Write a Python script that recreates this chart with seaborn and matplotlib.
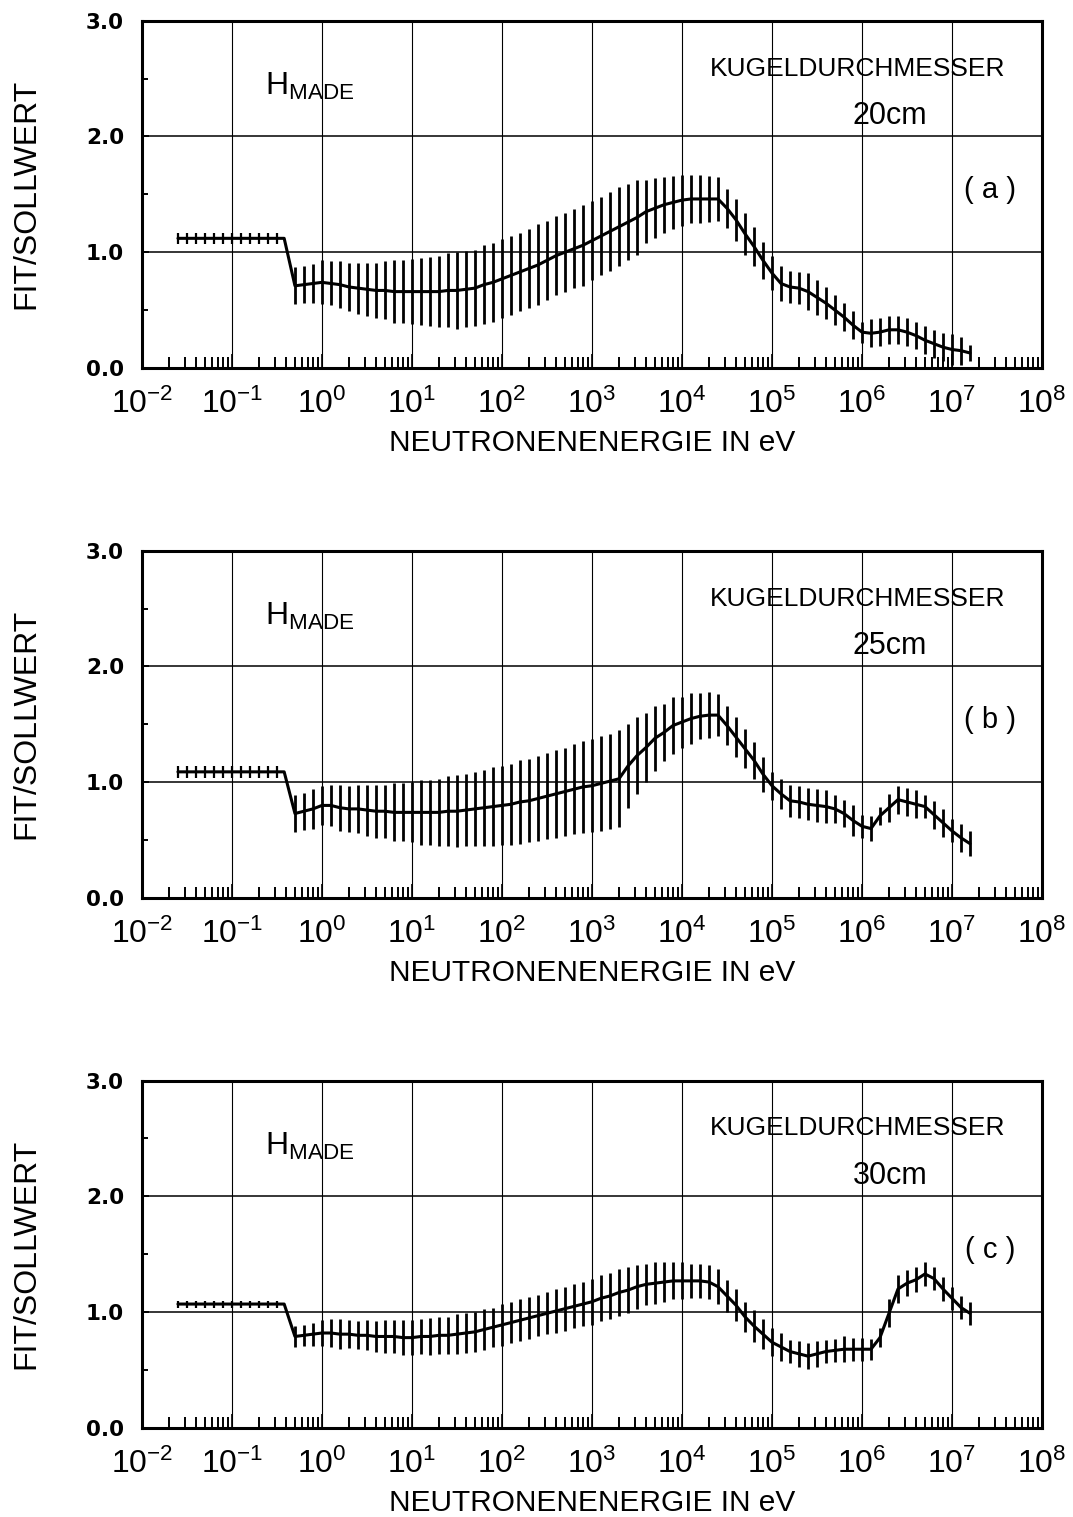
import numpy as np
import pandas as pd
import matplotlib
matplotlib.use("Agg")
import matplotlib.pyplot as plt
import seaborn as sns
from matplotlib import font_manager as fm
from matplotlib.ticker import FixedLocator, LogLocator, NullFormatter, FuncFormatter

# ---------------- data ----------------
# log10 of neutron energy (eV) for the main error-bar points
LOG_E = [-0.3, -0.2, -0.1, 0.0, 0.1, 0.2, 0.3, 0.4, 0.5, 0.6,
         0.7, 0.8, 0.9, 1.0, 1.1, 1.2, 1.3, 1.4, 1.5, 1.6,
         1.7, 1.8, 1.9, 2.0, 2.1, 2.2, 2.3, 2.4, 2.5, 2.6,
         2.7, 2.8, 2.9, 3.0, 3.1, 3.2, 3.3, 3.4, 3.5, 3.6,
         3.7, 3.8, 3.9, 4.0, 4.1, 4.2, 4.3, 4.4, 4.5, 4.6,
         4.7, 4.8, 4.9, 5.0, 5.1, 5.2, 5.3, 5.4, 5.5, 5.6,
         5.7, 5.8, 5.9, 6.0, 6.1, 6.2, 6.3, 6.4, 6.5, 6.6,
         6.7, 6.8, 6.9, 7.0, 7.1, 7.2]

# thermal plateau points (log10 eV)
LOG_E_THERMAL = [-1.6, -1.5, -1.4, -1.3, -1.2, -1.1, -1.0, -0.9, -0.8, -0.7, -0.6, -0.5]
PLATEAU_END = -0.42

THERMAL_A, THERMAL_ERR_A = 1.12, 0.05
THERMAL_B, THERMAL_ERR_B = 1.09, 0.05
THERMAL_C, THERMAL_ERR_C = 1.07, 0.03

VAL_A = [0.71, 0.72, 0.73, 0.74, 0.73, 0.72, 0.70, 0.69, 0.68, 0.67,
         0.67, 0.66, 0.66, 0.66, 0.66, 0.66, 0.66, 0.67, 0.67, 0.68,
         0.69, 0.72, 0.74, 0.77, 0.80, 0.83, 0.86, 0.89, 0.93, 0.97,
         1.00, 1.03, 1.06, 1.10, 1.14, 1.18, 1.22, 1.26, 1.30, 1.35,
         1.38, 1.41, 1.43, 1.45, 1.46, 1.46, 1.46, 1.46, 1.38, 1.28,
         1.16, 1.05, 0.93, 0.82, 0.73, 0.70, 0.69, 0.66, 0.61, 0.56,
         0.50, 0.44, 0.37, 0.31, 0.30, 0.31, 0.33, 0.33, 0.31, 0.28,
         0.24, 0.21, 0.18, 0.16, 0.15, 0.13]
ERR_A = [0.16, 0.16, 0.17, 0.19, 0.19, 0.20, 0.21, 0.22, 0.23, 0.24,
         0.25, 0.27, 0.27, 0.28, 0.29, 0.30, 0.31, 0.32, 0.33, 0.33,
         0.33, 0.34, 0.34, 0.34, 0.34, 0.34, 0.34, 0.35, 0.34, 0.34,
         0.34, 0.34, 0.35, 0.34, 0.34, 0.34, 0.34, 0.33, 0.32, 0.27,
         0.26, 0.24, 0.23, 0.22, 0.21, 0.21, 0.20, 0.19, 0.17, 0.18,
         0.18, 0.17, 0.16, 0.15, 0.15, 0.14, 0.14, 0.16, 0.15, 0.14,
         0.13, 0.12, 0.12, 0.09, 0.12, 0.12, 0.12, 0.12, 0.12, 0.12,
         0.12, 0.12, 0.12, 0.13, 0.12, 0.07]

VAL_B = [0.73, 0.75, 0.77, 0.80, 0.80, 0.78, 0.77, 0.77, 0.76, 0.75,
         0.75, 0.74, 0.74, 0.74, 0.74, 0.74, 0.74, 0.75, 0.75, 0.76,
         0.77, 0.78, 0.79, 0.80, 0.81, 0.83, 0.84, 0.86, 0.88, 0.90,
         0.92, 0.94, 0.96, 0.97, 0.99, 1.01, 1.03, 1.14, 1.23, 1.30,
         1.38, 1.43, 1.49, 1.52, 1.55, 1.57, 1.58, 1.58, 1.49, 1.39,
         1.29, 1.19, 1.07, 0.97, 0.90, 0.84, 0.83, 0.81, 0.80, 0.79,
         0.77, 0.73, 0.67, 0.62, 0.60, 0.71, 0.78, 0.85, 0.83, 0.81,
         0.79, 0.72, 0.65, 0.58, 0.52, 0.47]
ERR_B = [0.16, 0.16, 0.17, 0.17, 0.18, 0.20, 0.20, 0.21, 0.22, 0.23,
         0.23, 0.25, 0.25, 0.26, 0.28, 0.28, 0.29, 0.30, 0.31, 0.31,
         0.32, 0.33, 0.34, 0.34, 0.35, 0.36, 0.36, 0.37, 0.37, 0.38,
         0.38, 0.39, 0.40, 0.40, 0.41, 0.41, 0.42, 0.36, 0.33, 0.30,
         0.28, 0.25, 0.25, 0.22, 0.22, 0.20, 0.20, 0.18, 0.17, 0.17,
         0.17, 0.16, 0.15, 0.12, 0.13, 0.14, 0.14, 0.14, 0.14, 0.14,
         0.12, 0.12, 0.13, 0.10, 0.11, 0.08, 0.12, 0.12, 0.12, 0.12,
         0.10, 0.12, 0.12, 0.10, 0.12, 0.11]

VAL_C = [0.79, 0.80, 0.81, 0.82, 0.82, 0.81, 0.81, 0.80, 0.80, 0.79,
         0.79, 0.79, 0.78, 0.78, 0.79, 0.79, 0.80, 0.80, 0.81, 0.82,
         0.83, 0.85, 0.87, 0.89, 0.91, 0.93, 0.95, 0.97, 0.99, 1.01,
         1.03, 1.05, 1.07, 1.09, 1.12, 1.14, 1.17, 1.19, 1.22, 1.24,
         1.25, 1.26, 1.27, 1.27, 1.27, 1.27, 1.26, 1.22, 1.14, 1.06,
         0.96, 0.88, 0.81, 0.74, 0.70, 0.66, 0.64, 0.62, 0.64, 0.66,
         0.67, 0.68, 0.68, 0.68, 0.68, 0.78, 0.99, 1.20, 1.25, 1.28,
         1.33, 1.29, 1.20, 1.12, 1.04, 0.99]
ERR_C = [0.09, 0.09, 0.10, 0.11, 0.12, 0.13, 0.12, 0.12, 0.13, 0.13,
         0.14, 0.14, 0.15, 0.15, 0.15, 0.16, 0.16, 0.16, 0.17, 0.17,
         0.17, 0.18, 0.17, 0.18, 0.18, 0.18, 0.18, 0.18, 0.18, 0.19,
         0.19, 0.19, 0.19, 0.20, 0.20, 0.20, 0.20, 0.20, 0.19, 0.18,
         0.18, 0.17, 0.16, 0.16, 0.15, 0.15, 0.15, 0.15, 0.14, 0.14,
         0.13, 0.14, 0.13, 0.12, 0.12, 0.10, 0.11, 0.11, 0.11, 0.10,
         0.10, 0.11, 0.10, 0.10, 0.09, 0.08, 0.12, 0.12, 0.11, 0.11,
         0.10, 0.10, 0.10, 0.10, 0.10, 0.10]

DIAMETERS = ["20cm", "25cm", "30cm"]
PANEL_TAGS = ["( a )", "( b )", "( c )"]
Y_TICKS = [0.0, 1.0, 2.0, 3.0]
Y_MINOR = [0.5, 1.5, 2.5]
X_DECADES = [-2, -1, 0, 1, 2, 3, 4, 5, 6, 7, 8]

# ---------------- style ----------------
sns.set_theme(style="white")
names = {f.name for f in fm.fontManager.ttflist}
if "Liberation Sans Narrow" in names:
    FONT, K = "Liberation Sans Narrow", 1.19
else:
    FONT, K = "Liberation Sans", 1.0
plt.rcParams["font.family"] = [FONT, "DejaVu Sans"]
plt.rcParams["mathtext.default"] = "regular"
plt.rcParams["mathtext.fontset"] = "custom"
plt.rcParams["mathtext.rm"] = FONT
plt.rcParams["mathtext.it"] = FONT
plt.rcParams["mathtext.bf"] = FONT
for key in ["text.color", "axes.labelcolor", "xtick.color", "ytick.color", "axes.edgecolor"]:
    plt.rcParams[key] = "black"

fig = plt.figure(figsize=(10.73, 15.17), dpi=100)
fig.patch.set_facecolor("white")

panels = [
    (0.7574, THERMAL_A, THERMAL_ERR_A, VAL_A, ERR_A),
    (0.4080, THERMAL_B, THERMAL_ERR_B, VAL_B, ERR_B),
    (0.0587, THERMAL_C, THERMAL_ERR_C, VAL_C, ERR_C),
]

for i, (bottom, tv, te, vals, errs) in enumerate(panels):
    ax = fig.add_axes([0.1323, bottom, 0.8388, 0.2290])
    ax.set_xscale("log")
    ax.set_xlim(10.0 ** X_DECADES[0], 10.0 ** X_DECADES[-1])
    ax.set_ylim(0, 3)

    # grid
    for d in X_DECADES[1:-1]:
        ax.axvline(10.0 ** d, color="black", lw=0.8, zorder=1)
    for yv in Y_TICKS[1:-1]:
        ax.axhline(yv, color="black", lw=1.1, zorder=1)

    # curve
    e_main = 10.0 ** np.array(LOG_E)
    e_th = 10.0 ** np.array(LOG_E_THERMAL)
    line_x = np.concatenate([e_th, [10.0 ** PLATEAU_END], e_main])
    line_y = np.concatenate([[tv] * len(e_th), [tv], vals])
    df = pd.DataFrame({"E": line_x, "v": line_y})
    sns.lineplot(data=df, x="E", y="v", ax=ax, color="black", lw=2.2,
                 sort=False, estimator=None, zorder=3)

    # error bars
    v = np.array(vals)
    e = np.array(errs)
    ax.vlines(e_main, v - e, v + e, color="black", lw=2.0, zorder=3)
    ax.vlines(e_th, np.full(len(e_th), tv - te), np.full(len(e_th), tv + te),
              color="black", lw=1.6, zorder=3)

    # spines
    for s in ax.spines.values():
        s.set_linewidth(2.2)
        s.set_color("black")
        s.set_visible(True)

    # ticks
    ax.xaxis.set_major_locator(FixedLocator([10.0 ** d for d in X_DECADES]))
    ax.xaxis.set_minor_locator(LogLocator(base=10, subs=np.arange(2, 10), numticks=50))
    ax.xaxis.set_minor_formatter(NullFormatter())
    ax.xaxis.set_major_formatter(FuncFormatter(
        lambda x, p: r"$10^{%d}$" % int(round(np.log10(x)))))
    ax.tick_params(axis="x", which="major", direction="in", length=10, width=1.2,
                   bottom=True, top=False, labelsize=23 * K, pad=15)
    ax.tick_params(axis="x", which="minor", direction="in", length=8, width=1.4,
                   bottom=True, top=False)
    ax.yaxis.set_major_locator(FixedLocator(Y_TICKS))
    ax.yaxis.set_minor_locator(FixedLocator(Y_MINOR))
    ax.set_yticklabels(["%.1f" % t for t in Y_TICKS])
    ax.tick_params(axis="y", which="major", direction="in", length=5, width=1.4,
                   left=True, right=False, pad=13)
    ax.tick_params(axis="y", which="minor", direction="in", length=4, width=1.4,
                   left=True, right=False)
    for lab in ax.get_yticklabels():
        lab.set_fontfamily("DejaVu Sans")
        lab.set_fontweight("bold")
        lab.set_fontsize(15.5)

    ax.set_xlabel("NEUTRONENENERGIE IN eV", fontsize=21.5 * K)
    ax.xaxis.set_label_coords(0.5, -0.175)
    ax.set_ylabel("FIT/SOLLWERT", fontsize=23 * K)
    ax.yaxis.set_label_coords(-0.112, 0.5)

    # annotations
    ax.text(0.137, 0.81, r"H$_{MADE}$", transform=ax.transAxes, fontsize=23 * K,
            ha="left", va="center")
    ax.text(0.795, 0.862, "KUGELDURCHMESSER", transform=ax.transAxes,
            fontsize=19 * K, ha="center", va="center")
    ax.text(0.831, 0.725, DIAMETERS[i], transform=ax.transAxes,
            fontsize=22 * K, ha="center", va="center")
    ax.text(0.942, 0.512, PANEL_TAGS[i], transform=ax.transAxes,
            fontsize=21 * K, ha="center", va="center")

fig.savefig("out.png", dpi=100, facecolor="white")
